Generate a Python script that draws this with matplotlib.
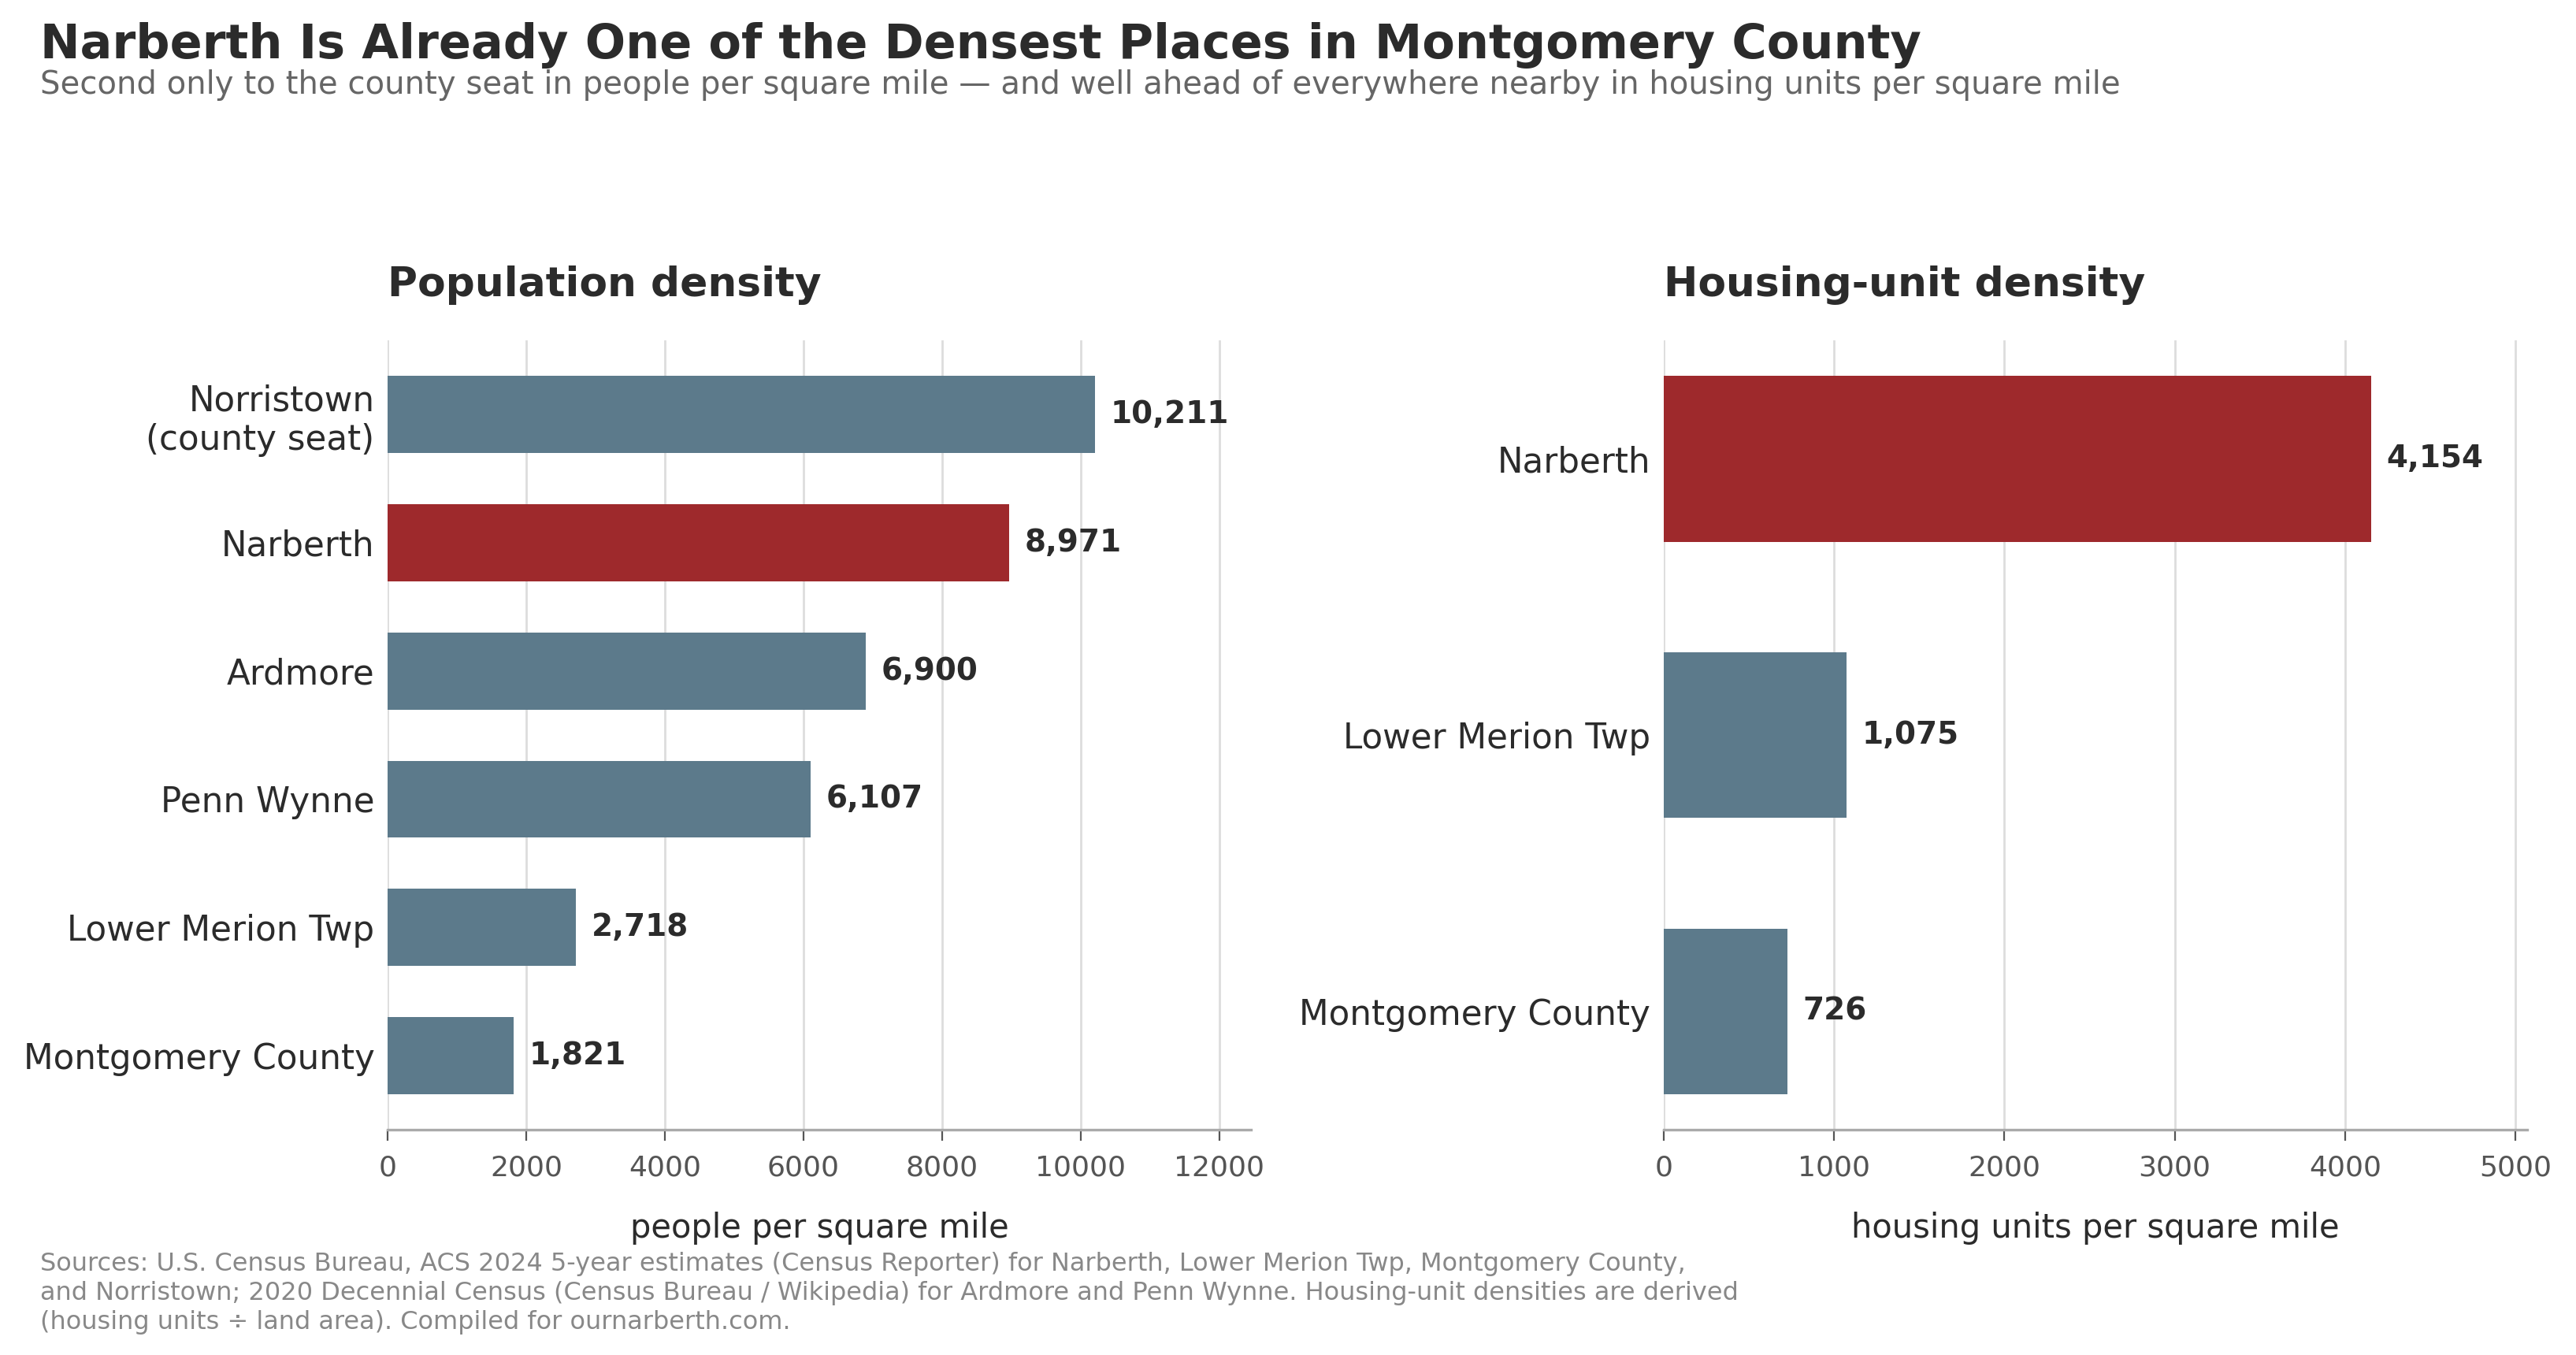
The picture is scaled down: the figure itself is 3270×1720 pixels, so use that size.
import matplotlib.pyplot as plt
from matplotlib.ticker import MaxNLocator

# population density (people per sq mi)
pop_places = ['Norristown\n(county seat)', 'Narberth', 'Ardmore', 'Penn Wynne',
              'Lower Merion Twp', 'Montgomery County']
pop_density = [10211, 8971, 6900, 6107, 2718, 1821]

# housing-unit density (units per sq mi)
hu_places = ['Narberth', 'Lower Merion Twp', 'Montgomery County']
hu_density = [4154, 1075, 726]

HIGHLIGHT = 'Narberth'
RED = '#9e292c'
SLATE = '#5c7a8b'
DARK = '#2b2b2b'

plt.rcParams['font.family'] = ['DejaVu Sans']

fig, axes = plt.subplots(1, 2, figsize=(16.35, 8.6), dpi=200)
fig.subplots_adjust(left=0.1505, right=0.981, bottom=0.166, top=0.749, wspace=0.478)


def density_panel(ax, places, values, title, xlabel):
    colors = [RED if p == HIGHLIGHT else SLATE for p in places]
    ypos = range(len(places))
    ax.barh(ypos, values, height=0.6, color=colors, zorder=2)
    ax.set_yticks(list(ypos))
    ax.set_yticklabels(places)
    ax.invert_yaxis()
    ax.set_xlim(0, max(values) * 1.22)
    ax.xaxis.set_major_locator(MaxNLocator(nbins=7, steps=[1, 2, 5, 10]))

    for y, v in zip(ypos, values):
        ax.annotate(f'{v:,}', xy=(v, y), xytext=(7, 0), textcoords='offset points',
                    va='center', ha='left', fontsize=14, fontweight='bold', color=DARK)

    ax.set_title(title, loc='left', fontsize=18.7, fontweight='bold', color=DARK, pad=20)
    ax.set_xlabel(xlabel, fontsize=15, color=DARK, labelpad=14)

    ax.grid(axis='x', color='#dddddd', linewidth=1.0, zorder=0)
    ax.grid(axis='y', visible=False)
    for s in ['top', 'right', 'left']:
        ax.spines[s].set_visible(False)
    ax.spines['bottom'].set_color('#aaaaaa')
    ax.spines['bottom'].set_linewidth(1.2)
    ax.tick_params(axis='y', length=0, pad=6, labelsize=15.7, labelcolor=DARK)
    ax.tick_params(axis='x', length=5, width=0.8, color='#555555', pad=6,
                   labelsize=13, labelcolor='#555555')


density_panel(axes[0], pop_places, pop_density, 'Population density', 'people per square mile')
density_panel(axes[1], hu_places, hu_density, 'Housing-unit density', 'housing units per square mile')

fig.text(0.0155, 0.984, 'Narberth Is Already One of the Densest Places in Montgomery County',
         fontsize=21.8, fontweight='bold', color=DARK, ha='left', va='top')
fig.text(0.0155, 0.937, 'Second only to the county seat in people per square mile \u2014 and well ahead '
         'of everywhere nearby in housing units per square mile',
         fontsize=14.5, color='#666666', ha='left', va='center')

fig.text(0.0155, 0.076,
         'Sources: U.S. Census Bureau, ACS 2024 5-year estimates (Census Reporter) for Narberth, '
         'Lower Merion Twp, Montgomery County,\nand Norristown; 2020 Decennial Census (Census Bureau / '
         'Wikipedia) for Ardmore and Penn Wynne. Housing-unit densities are derived\n(housing units '
         '\u00f7 land area). Compiled for ournarberth.com.',
         fontsize=11.5, color='#888888', ha='left', va='top', linespacing=1.25)

fig.savefig('out.png', dpi=200)
